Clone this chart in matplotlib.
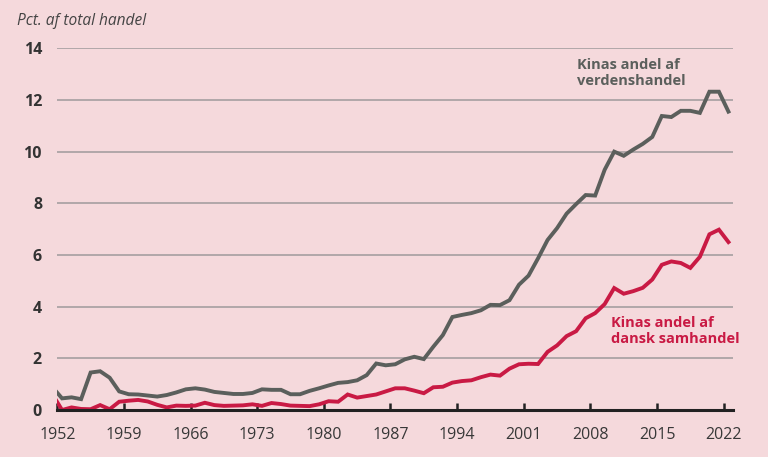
import matplotlib
matplotlib.use("Agg")
import matplotlib.pyplot as plt
import numpy as np

# share of total trade, pct. (1951 is only partly visible at the left edge)
years = np.arange(1951, 2023)

world = [0.88,
         0.45, 0.49, 0.42, 1.45, 1.50, 1.25, 0.72, 0.61, 0.60, 0.56,
         0.52, 0.58, 0.68, 0.80, 0.84, 0.79, 0.70, 0.66, 0.62, 0.62,
         0.66, 0.80, 0.78, 0.78, 0.61, 0.61, 0.74, 0.84, 0.95, 1.05,
         1.08, 1.15, 1.35, 1.80, 1.73, 1.77, 1.96, 2.06, 1.97, 2.45,
         2.90, 3.60, 3.68, 3.75, 3.86, 4.07, 4.06, 4.25, 4.85, 5.20,
         5.87, 6.58, 7.04, 7.60, 7.97, 8.32, 8.30, 9.30, 10.00, 9.84,
         10.08, 10.30, 10.57, 11.38, 11.34, 11.58, 11.58, 11.50, 12.32, 12.32,
         11.55]

denmark = [0.60,
           0.00, 0.10, 0.04, 0.03, 0.19, 0.03, 0.32, 0.36, 0.39, 0.33,
           0.20, 0.10, 0.17, 0.16, 0.17, 0.28, 0.19, 0.16, 0.17, 0.18,
           0.22, 0.16, 0.27, 0.23, 0.17, 0.16, 0.15, 0.22, 0.34, 0.32,
           0.60, 0.48, 0.54, 0.60, 0.72, 0.84, 0.84, 0.75, 0.65, 0.88,
           0.90, 1.06, 1.12, 1.15, 1.27, 1.37, 1.33, 1.60, 1.77, 1.79,
           1.78, 2.25, 2.50, 2.86, 3.05, 3.55, 3.75, 4.10, 4.72, 4.50,
           4.60, 4.73, 5.05, 5.62, 5.75, 5.69, 5.50, 5.93, 6.80, 6.98,
           6.50]

xticks = [1952, 1959, 1966, 1973, 1980, 1987, 1994, 2001, 2008, 2015, 2022]
yticks = [0, 2, 4, 6, 8, 10, 12, 14]

bg = "#f5d9dc"
grey = "#5b5f5c"
red = "#c91a44"

plt.rcParams['font.family'] = ['Open Sans', 'DejaVu Sans']

fig = plt.figure(figsize=(7.68, 4.57), dpi=100, facecolor=bg)
ax = fig.add_axes([57.3 / 768, 1 - 410 / 457, 675.9 / 768, 361.7 / 457])
ax.set_facecolor(bg)

for v in yticks[1:]:
    ax.axhline(v, color="#a59fa0", lw=1.2, zorder=1)

# each year sits in the middle of its band
ax.plot(years + 0.5, world, color=grey, lw=2.8, zorder=3, solid_joinstyle="miter")
ax.plot(years + 0.5, denmark, color=red, lw=2.8, zorder=3, solid_joinstyle="miter")

ax.set_xlim(1952, 2023)
ax.set_ylim(0, 14)

for s in ["top", "right", "left"]:
    ax.spines[s].set_visible(False)
ax.spines["bottom"].set_color("#222222")
ax.spines["bottom"].set_linewidth(2.2)
ax.spines["bottom"].set_zorder(4)

ax.set_xticks(xticks)
ax.set_xticklabels([str(y) for y in xticks], fontsize=11.5, color="#383838")
ax.tick_params(axis="x", direction="in", length=5, width=1.8, color="#222222", pad=12)

ax.set_yticks(yticks)
ax.set_yticklabels([str(v) for v in yticks], fontsize=11.5, fontweight="bold", color="#333333")
ax.tick_params(axis="y", length=0, pad=11)

fig.text(17 / 768, 1 - 21 / 457, "Pct. af total handel", fontsize=11.2, style="italic",
         color="#444444", va="center", ha="left")

ax.text(2006.6, 13.05, "Kinas andel af\nverdenshandel", color=grey, fontsize=10.5,
        fontweight="bold", va="center", ha="left", linespacing=1.15)
ax.text(2010.2, 3.05, "Kinas andel af\ndansk samhandel", color=red, fontsize=10.5,
        fontweight="bold", va="center", ha="left", linespacing=1.15)

fig.savefig("out.png", dpi=100, facecolor=bg)
